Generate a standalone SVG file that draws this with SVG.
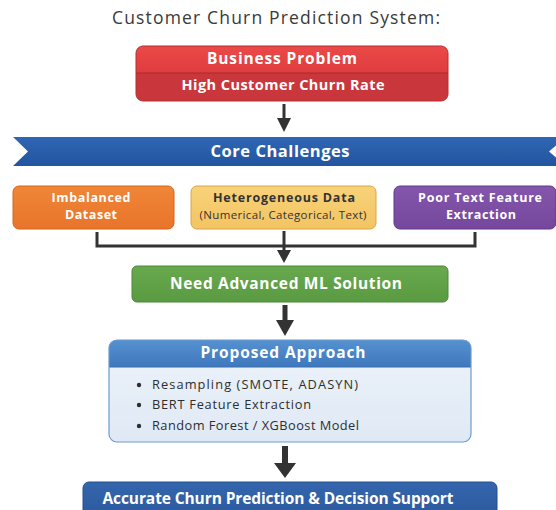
<svg xmlns="http://www.w3.org/2000/svg" width="556" height="510" viewBox="0 0 556 510">
  <defs>
    <linearGradient id="gRedTop" x1="0" y1="0" x2="0" y2="1">
      <stop offset="0" stop-color="#ea4a48"/>
      <stop offset="1" stop-color="#e03c3e"/>
    </linearGradient>
    <linearGradient id="gBanner" x1="0" y1="0" x2="0" y2="1">
      <stop offset="0" stop-color="#2f66b3"/>
      <stop offset="1" stop-color="#23559f"/>
    </linearGradient>
    <linearGradient id="gOrange" x1="0" y1="0" x2="0" y2="1">
      <stop offset="0" stop-color="#f08637"/>
      <stop offset="1" stop-color="#e8742a"/>
    </linearGradient>
    <linearGradient id="gYellow" x1="0" y1="0" x2="0" y2="1">
      <stop offset="0" stop-color="#f8d27a"/>
      <stop offset="1" stop-color="#f3c462"/>
    </linearGradient>
    <linearGradient id="gPurple" x1="0" y1="0" x2="0" y2="1">
      <stop offset="0" stop-color="#8456ad"/>
      <stop offset="1" stop-color="#74489d"/>
    </linearGradient>
    <linearGradient id="gGreen" x1="0" y1="0" x2="0" y2="1">
      <stop offset="0" stop-color="#68a94e"/>
      <stop offset="1" stop-color="#5a9a42"/>
    </linearGradient>
    <linearGradient id="gHead" x1="0" y1="0" x2="0" y2="1">
      <stop offset="0" stop-color="#5591d0"/>
      <stop offset="1" stop-color="#3f78bd"/>
    </linearGradient>
    <linearGradient id="gBody" x1="0" y1="0" x2="0" y2="1">
      <stop offset="0" stop-color="#edf3fa"/>
      <stop offset="1" stop-color="#dfe9f5"/>
    </linearGradient>
    <linearGradient id="gFinal" x1="0" y1="0" x2="0" y2="1">
      <stop offset="0" stop-color="#3466ad"/>
      <stop offset="1" stop-color="#2b579c"/>
    </linearGradient>
    <clipPath id="clipBiz">
      <rect x="136" y="46" width="312" height="55" rx="7"/>
    </clipPath>
    <clipPath id="clipProp">
      <rect x="109" y="340" width="362" height="102" rx="8"/>
    </clipPath>
  </defs>
  <style>
    .t { font-family: "Open Sans", "Liberation Sans", sans-serif; }
    .w { fill: #ffffff; font-weight: 700; text-anchor: middle; }
    .d { fill: #2e2e2e; }
    .line { stroke: #333333; stroke-width: 3; fill: none; }
    .head { fill: #333333; }
  </style>

  <rect width="556" height="510" fill="#ffffff"/>

  <!-- title -->
  <text class="t" x="276" y="24" font-size="17.5" fill="#3a3a3a" text-anchor="middle" textLength="328" lengthAdjust="spacing">Customer Churn Prediction System:</text>

  <!-- business problem -->
  <g id="business-problem">
    <g clip-path="url(#clipBiz)">
      <rect x="136" y="46" width="312" height="27" fill="url(#gRedTop)"/>
      <rect x="136" y="73" width="312" height="28" fill="#c9363b"/>
      <line x1="136" y1="73" x2="448" y2="73" stroke="#a82a2f" stroke-width="1.2"/>
    </g>
    <rect x="136" y="46" width="312" height="55" rx="7" fill="none" stroke="#b52e33" stroke-width="1"/>
    <text class="t w" x="282" y="64" font-size="15.5" textLength="150" lengthAdjust="spacing">Business Problem</text>
    <text class="t w" x="283" y="90" font-size="14.5" textLength="203" lengthAdjust="spacing">High Customer Churn Rate</text>
  </g>

  <!-- core challenges banner -->
  <g id="core-challenges">
    <polygon points="13,137 566,137 549,151.5 566,166 13,166 28,151.5" fill="url(#gBanner)"/>
    <text class="t w" x="280" y="157" font-size="16.5" textLength="139" lengthAdjust="spacing">Core Challenges</text>
  </g>

  <!-- challenge boxes -->
  <g id="imbalanced-dataset">
    <rect x="13" y="186" width="161" height="43" rx="6" fill="url(#gOrange)" stroke="#d3661f" stroke-width="1"/>
    <text class="t w" x="91" y="202" font-size="12.5" textLength="79" lengthAdjust="spacing">Imbalanced</text>
    <text class="t w" x="91" y="219" font-size="12.5" textLength="52" lengthAdjust="spacing">Dataset</text>
  </g>

  <g id="heterogeneous-data">
    <rect x="191" y="186" width="185" height="43" rx="6" fill="url(#gYellow)" stroke="#d6a646" stroke-width="1"/>
    <text class="t" x="284" y="202" font-size="12.5" font-weight="700" fill="#333333" text-anchor="middle" textLength="142" lengthAdjust="spacing">Heterogeneous Data</text>
    <text class="t" x="283" y="219" font-size="11.5" fill="#333333" text-anchor="middle" textLength="167" lengthAdjust="spacing">(Numerical, Categorical, Text)</text>
  </g>

  <g id="poor-text-feature">
    <rect x="394" y="186" width="162" height="43" rx="6" fill="url(#gPurple)" stroke="#62398a" stroke-width="1"/>
    <text class="t w" x="480" y="202" font-size="12.5" textLength="124" lengthAdjust="spacing">Poor Text Feature</text>
    <text class="t w" x="481" y="219" font-size="12.5" textLength="70" lengthAdjust="spacing">Extraction</text>
  </g>

  <!-- need advanced ML -->
  <g id="need-ml">
    <rect x="132" y="266" width="316" height="36" rx="5" fill="url(#gGreen)" stroke="#4c8837" stroke-width="1"/>
    <text class="t w" x="286" y="289" font-size="15.5" textLength="232" lengthAdjust="spacing">Need Advanced ML Solution</text>
  </g>

  <!-- proposed approach -->
  <g id="proposed-approach">
    <g clip-path="url(#clipProp)">
      <rect x="109" y="340" width="362" height="102" fill="url(#gBody)"/>
      <rect x="109" y="340" width="362" height="27" fill="url(#gHead)"/>
      <line x1="109" y1="367" x2="471" y2="367" stroke="#3a6eae" stroke-width="1"/>
    </g>
    <rect x="109" y="340" width="362" height="102" rx="8" fill="none" stroke="#6c9bd0" stroke-width="1.2"/>
    <text class="t w" x="283" y="358" font-size="15.5" textLength="165" lengthAdjust="spacing">Proposed Approach</text>
    <g class="t d" font-size="12.8" font-weight="500">
      <circle cx="139" cy="385" r="2.2" fill="#2e2e2e"/>
      <text x="152" y="389" textLength="206" lengthAdjust="spacing">Resampling (SMOTE, ADASYN)</text>
      <circle cx="139" cy="405" r="2.2" fill="#2e2e2e"/>
      <text x="152" y="409" textLength="159" lengthAdjust="spacing">BERT Feature Extraction</text>
      <circle cx="139" cy="426" r="2.2" fill="#2e2e2e"/>
      <text x="152" y="430" textLength="207" lengthAdjust="spacing">Random Forest / XGBoost Model</text>
    </g>
  </g>

  <!-- final outcome -->
  <g id="accurate-prediction">
    <rect x="83" y="482" width="414" height="40" rx="6" fill="url(#gFinal)" stroke="#24508f" stroke-width="1"/>
    <text class="t w" x="278" y="504" font-size="15.5" textLength="351" lengthAdjust="spacing">Accurate Churn Prediction &amp; Decision Support</text>
  </g>

  <!-- connectors -->
  <g id="connectors">
    <!-- business problem to core challenges -->
    <line class="line" x1="284" y1="104" x2="284" y2="120"/>
    <polygon class="head" points="277,118 291,118 284,132"/>

    <!-- challenge boxes merge -->
    <polyline class="line" points="97,232 97,246 475,246 475,232"/>
    <line class="line" x1="284" y1="231" x2="284" y2="252"/>
    <polygon class="head" points="277,250 291,250 284,263"/>

    <!-- need ML to proposed approach -->
    <line x1="285" y1="305" x2="285" y2="322" stroke="#333333" stroke-width="5"/>
    <polygon class="head" points="276,320 294,320 285,336"/>

    <!-- proposed approach to outcome -->
    <line x1="285" y1="446" x2="285" y2="465" stroke="#333333" stroke-width="6"/>
    <polygon class="head" points="274,463 296,463 285,478"/>
  </g>
</svg>
